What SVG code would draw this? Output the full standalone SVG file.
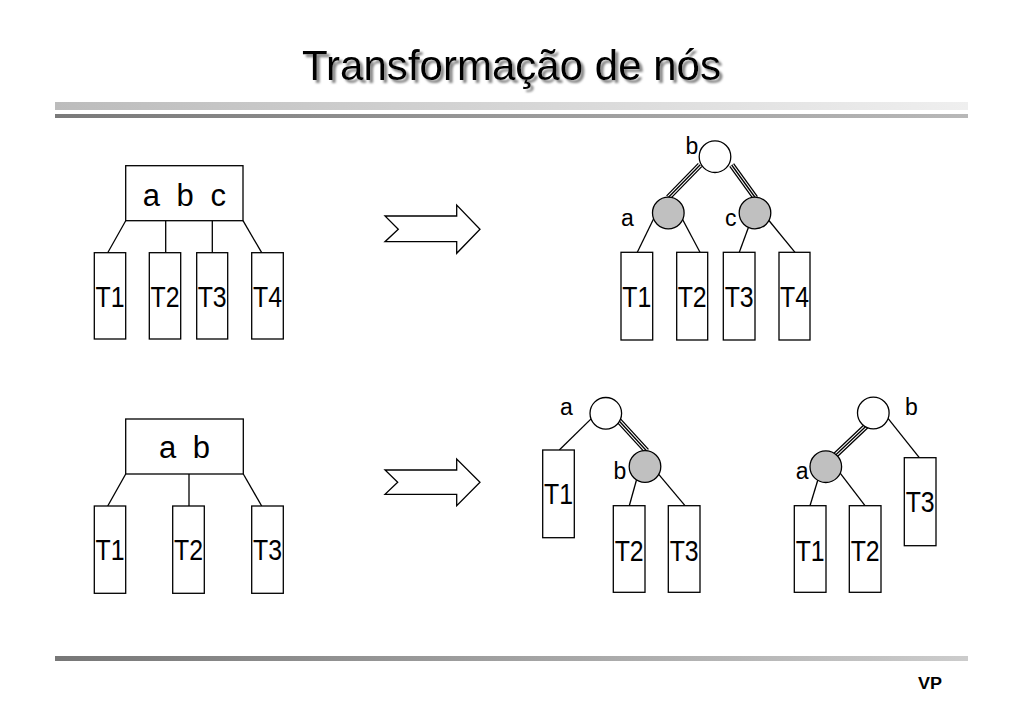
<svg xmlns="http://www.w3.org/2000/svg" width="1023" height="708" viewBox="0 0 1023 708">
<defs>
<linearGradient id="g1" x1="0" x2="1" y1="0" y2="0"><stop offset="0" stop-color="#bcbcbc"/><stop offset="1" stop-color="#efefef"/></linearGradient>
<linearGradient id="g2" x1="0" x2="1" y1="0" y2="0"><stop offset="0" stop-color="#7a7a7a"/><stop offset="1" stop-color="#b8b8b8"/></linearGradient>
<linearGradient id="g3" x1="0" x2="1" y1="0" y2="0"><stop offset="0" stop-color="#777777"/><stop offset="1" stop-color="#cccccc"/></linearGradient>
<filter id="shadow" x="-5%" y="-20%" width="110%" height="150%">
<feGaussianBlur in="SourceAlpha" stdDeviation="1.2" result="b"/>
<feOffset in="b" dx="2.5" dy="2.5" result="o"/>
<feFlood flood-color="#888888"/>
<feComposite in2="o" operator="in" result="s"/>
<feMerge><feMergeNode in="s"/><feMergeNode in="SourceGraphic"/></feMerge>
</filter>
</defs>
<style>
.ln{stroke:#000;stroke-width:1.3;fill:none}
.t1{stroke:#000;stroke-width:6;fill:none}
.t2{stroke:#fff;stroke-width:3.4;fill:none}
.t3{stroke:#000;stroke-width:1.3;fill:none}
.box{fill:#fff;stroke:#000;stroke-width:1.3}
.cw{fill:#fff;stroke:#000;stroke-width:1.3}
.cg{fill:#c0c0c0;stroke:#000;stroke-width:1.3}
.arr{fill:#fff;stroke:#000;stroke-width:1.3;stroke-linejoin:miter}
.tt{font-family:"Liberation Sans",Arial,sans-serif;font-size:30px;text-anchor:middle;fill:#000}
.lb{font-family:"Liberation Sans",Arial,sans-serif;font-size:23px;fill:#000}
.big{font-family:"Liberation Sans",Arial,sans-serif;font-size:31px;text-anchor:middle;word-spacing:8px;fill:#000}
</style>
<rect width="1023" height="708" fill="#fff"/>
<g id="header">
<text x="511.5" y="80" font-family="Liberation Sans, Arial, sans-serif" font-size="43" text-anchor="middle" textLength="419" lengthAdjust="spacingAndGlyphs" fill="#000" filter="url(#shadow)">Transformação de nós</text>
<rect x="55" y="102" width="913" height="8" fill="url(#g1)"/>
<rect x="55" y="114" width="913" height="4" fill="url(#g2)"/>
</g>
<g id="footer">
<rect x="55" y="656" width="913" height="5" fill="url(#g3)"/>
<text x="930" y="688.5" font-family="Liberation Sans, Arial, sans-serif" font-size="16" font-weight="bold" text-anchor="middle" textLength="24" lengthAdjust="spacingAndGlyphs">VP</text>
</g>
<g id="connectors">
<line class="ln" x1="125.7" y1="220.7" x2="107.7" y2="252.7"/>
<line class="ln" x1="165.7" y1="220.7" x2="165.7" y2="252.7"/>
<line class="ln" x1="212.3" y1="220.7" x2="212.3" y2="252.7"/>
<line class="ln" x1="243" y1="220.7" x2="261.7" y2="252.7"/>
<line class="ln" x1="125.7" y1="474" x2="107.7" y2="506"/>
<line class="ln" x1="189" y1="474" x2="189" y2="506"/>
<line class="ln" x1="243.3" y1="474" x2="261.7" y2="506"/>
<line class="ln" x1="654" y1="218" x2="637.3" y2="252.3"/>
<line class="ln" x1="681.8" y1="218" x2="700" y2="252.3"/>
<line class="ln" x1="749.3" y1="225" x2="739.3" y2="252.3"/>
<line class="ln" x1="767.7" y1="219" x2="795" y2="252.3"/>
<line class="ln" x1="593.1" y1="416.9" x2="559.3" y2="450"/>
<line class="ln" x1="637.1" y1="477.8" x2="629.3" y2="505.7"/>
<line class="ln" x1="658.1" y1="473.6" x2="685" y2="505.7"/>
<line class="ln" x1="887.4" y1="417.7" x2="919.3" y2="457.7"/>
<line class="ln" x1="818.2" y1="478.8" x2="810" y2="505.7"/>
<line class="ln" x1="839.2" y1="471.9" x2="865" y2="505.7"/>
<g id="triple-lines">
<line class="t1" x1="700" y1="165" x2="668.3" y2="197.5"/><line class="t2" x1="700" y1="165" x2="668.3" y2="197.5"/><line class="t3" x1="700" y1="165" x2="668.3" y2="197.5"/>
<line class="t1" x1="731.7" y1="165" x2="755.5" y2="198"/><line class="t2" x1="731.7" y1="165" x2="755.5" y2="198"/><line class="t3" x1="731.7" y1="165" x2="755.5" y2="198"/>
<line class="t1" x1="618.3" y1="420" x2="646.7" y2="451"/><line class="t2" x1="618.3" y1="420" x2="646.7" y2="451"/><line class="t3" x1="618.3" y1="420" x2="646.7" y2="451"/>
<line class="t1" x1="867.3" y1="425" x2="832.7" y2="457.7"/><line class="t2" x1="867.3" y1="425" x2="832.7" y2="457.7"/><line class="t3" x1="867.3" y1="425" x2="832.7" y2="457.7"/>
</g>
</g>
<g id="arrow-top"><polygon class="arr" points="385,216 456.7,216 456.7,205 480,229.3 456.7,253.3 456.7,241.7 385,241.7 398.3,229.3"/></g>
<g id="arrow-bottom"><polygon class="arr" points="385,470 456.7,470 456.7,459 480,482.3 456.7,505.7 456.7,494.3 385,494.3 397.7,482.3"/></g>
<g id="node-abc"><rect class="box" x="125.7" y="165.7" width="117.3" height="55"/><text class="big" x="184.3" y="205.7">a b c</text></g>
<g id="tl-T1"><rect class="box" x="94.3" y="252.7" width="31.4" height="86.3"/><text class="tt" x="110" y="306.5" textLength="29" lengthAdjust="spacingAndGlyphs">T1</text></g>
<g id="tl-T2"><rect class="box" x="149.3" y="252.7" width="31.4" height="86.3"/><text class="tt" x="165" y="306.5" textLength="29" lengthAdjust="spacingAndGlyphs">T2</text></g>
<g id="tl-T3"><rect class="box" x="196.7" y="252.7" width="31" height="86.3"/><text class="tt" x="212.2" y="306.5" textLength="29" lengthAdjust="spacingAndGlyphs">T3</text></g>
<g id="tl-T4"><rect class="box" x="251.7" y="252.7" width="31.6" height="86.3"/><text class="tt" x="267.5" y="306.5" textLength="29" lengthAdjust="spacingAndGlyphs">T4</text></g>
<g id="tr-b"><circle class="cw" cx="715" cy="156.7" r="15.8"/><text class="lb" x="685.5" y="153.5">b</text></g>
<g id="tr-a"><circle class="cg" cx="668.3" cy="213" r="15.8"/><text class="lb" x="621" y="225.5">a</text></g>
<g id="tr-c"><circle class="cg" cx="755" cy="213" r="15.8"/><text class="lb" x="725" y="225.5">c</text></g>
<g id="tr-T1"><rect class="box" x="621" y="252.3" width="31.7" height="87.7"/><text class="tt" x="636.8" y="306.5" textLength="29" lengthAdjust="spacingAndGlyphs">T1</text></g>
<g id="tr-T2"><rect class="box" x="676.7" y="252.3" width="31" height="87.7"/><text class="tt" x="692.2" y="306.5" textLength="29" lengthAdjust="spacingAndGlyphs">T2</text></g>
<g id="tr-T3"><rect class="box" x="723.3" y="252.3" width="31.7" height="87.7"/><text class="tt" x="739.2" y="306.5" textLength="29" lengthAdjust="spacingAndGlyphs">T3</text></g>
<g id="tr-T4"><rect class="box" x="779" y="252.3" width="31" height="87.7"/><text class="tt" x="794.5" y="306.5" textLength="29" lengthAdjust="spacingAndGlyphs">T4</text></g>
<g id="node-ab"><rect class="box" x="125.7" y="419" width="117.6" height="55"/><text class="big" x="184.5" y="458.3">a b</text></g>
<g id="bl-T1"><rect class="box" x="94.3" y="506" width="31.4" height="87.3"/><text class="tt" x="110" y="559.5" textLength="29" lengthAdjust="spacingAndGlyphs">T1</text></g>
<g id="bl-T2"><rect class="box" x="172.7" y="506" width="31.6" height="87.3"/><text class="tt" x="188.5" y="559.5" textLength="29" lengthAdjust="spacingAndGlyphs">T2</text></g>
<g id="bl-T3"><rect class="box" x="251.7" y="506" width="31.6" height="87.3"/><text class="tt" x="267.5" y="559.5" textLength="29" lengthAdjust="spacingAndGlyphs">T3</text></g>
<g id="bm-a"><circle class="cw" cx="605.8" cy="413.3" r="15.8"/><text class="lb" x="560" y="414.8">a</text></g>
<g id="bm-b"><circle class="cg" cx="645" cy="466.5" r="15.8"/><text class="lb" x="613.5" y="478.8">b</text></g>
<g id="bm-T1"><rect class="box" x="542.7" y="450" width="31.6" height="87.7"/><text class="tt" x="558.5" y="504" textLength="29" lengthAdjust="spacingAndGlyphs">T1</text></g>
<g id="bm-T2"><rect class="box" x="613.3" y="505.7" width="31.7" height="86.6"/><text class="tt" x="629.2" y="560.5" textLength="29" lengthAdjust="spacingAndGlyphs">T2</text></g>
<g id="bm-T3"><rect class="box" x="668.3" y="505.7" width="31.7" height="86.6"/><text class="tt" x="684.2" y="560.5" textLength="29" lengthAdjust="spacingAndGlyphs">T3</text></g>
<g id="br-b"><circle class="cw" cx="873.3" cy="413" r="15.8"/><text class="lb" x="905" y="414.8">b</text></g>
<g id="br-a"><circle class="cg" cx="825.8" cy="466.7" r="15.8"/><text class="lb" x="795.8" y="478.8">a</text></g>
<g id="br-T3"><rect class="box" x="904.3" y="457.7" width="31.7" height="88"/><text class="tt" x="920.2" y="512" textLength="29" lengthAdjust="spacingAndGlyphs">T3</text></g>
<g id="br-T1"><rect class="box" x="794.3" y="505.7" width="31.7" height="86.6"/><text class="tt" x="810.2" y="560.5" textLength="29" lengthAdjust="spacingAndGlyphs">T1</text></g>
<g id="br-T2"><rect class="box" x="849.3" y="505.7" width="31.7" height="86.6"/><text class="tt" x="865.2" y="560.5" textLength="29" lengthAdjust="spacingAndGlyphs">T2</text></g>
</svg>
